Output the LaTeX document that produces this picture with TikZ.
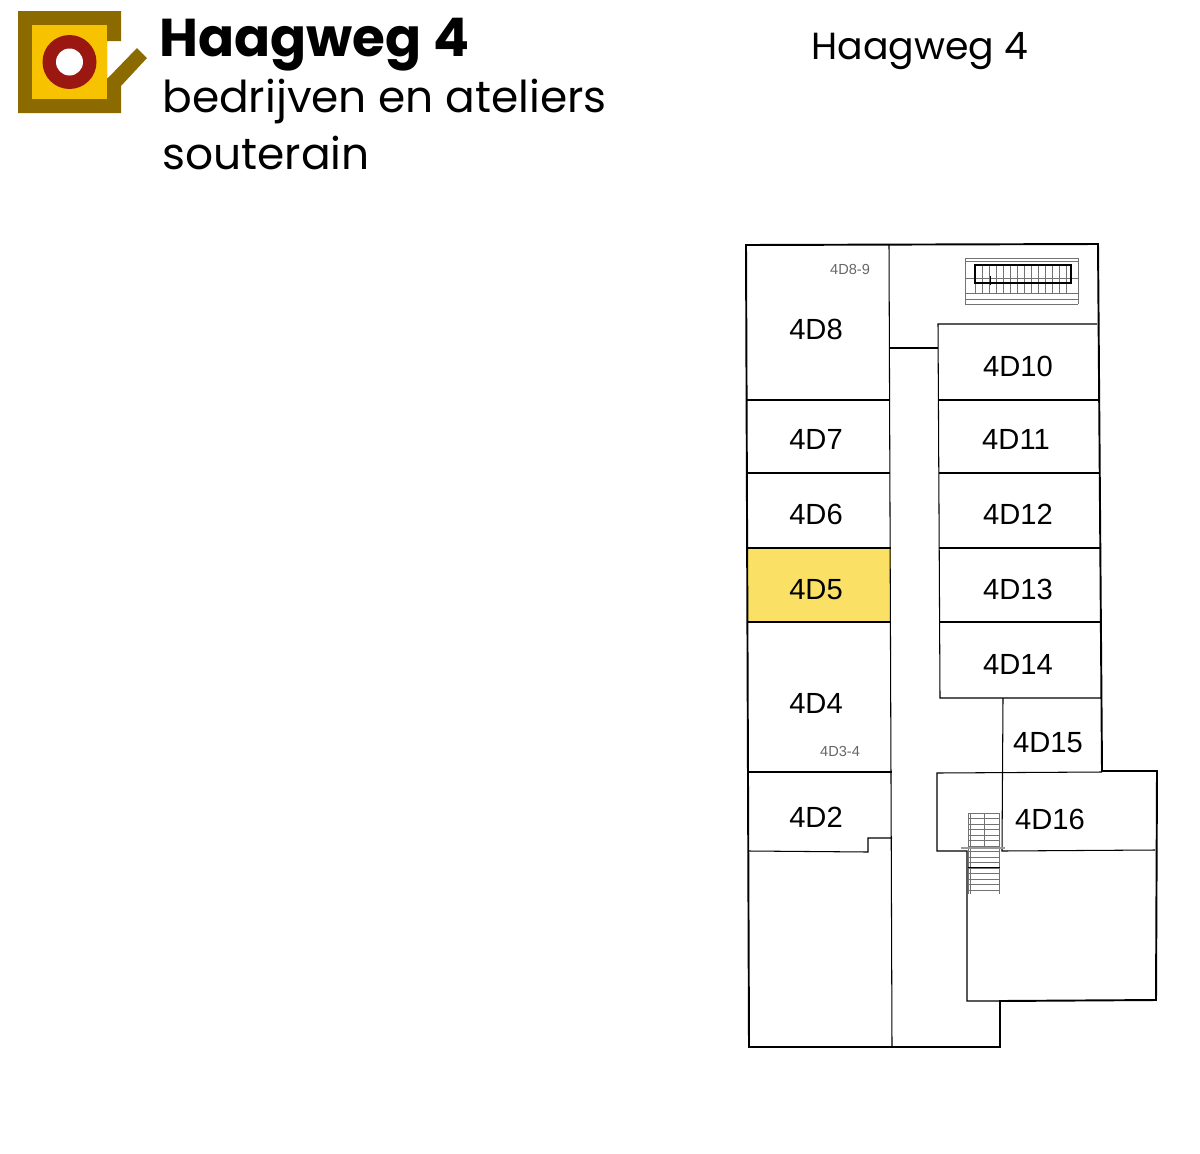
\documentclass[tikz,border=0pt]{standalone}
\usepackage{fontspec}
\setmainfont{Liberation Sans}
\newfontfamily\logofont{Poppins}
\definecolor{logobrown}{HTML}{8B6B00}
\definecolor{logoyellow}{HTML}{F7C200}
\definecolor{logored}{HTML}{9B1711}
\definecolor{unitfill}{HTML}{FAE064}
\tikzset{
    unitlabel/.style={font=\fontsize{16.6}{18}\selectfont, inner sep=0pt},
    smalllabel/.style={font=\fontsize{8.3}{9}\selectfont, text=black!60, inner sep=0pt},
    logotext/.style={font=\logofont\fontsize{25}{27}\selectfont, anchor=base west, inner sep=0pt},
    outerwall/.style={line width=1.1pt},
    innerwall/.style={line width=0.6pt},
    stairline/.style={line width=0.4pt, black!55},
}
\begin{document}
\begin{tikzpicture}[x=0.02cm,y=-0.02cm]
    \useasboundingbox (0,0) rectangle (1200,1153);

    % logo
    \fill[logobrown] (18,11) -- (121,11) -- (121,41) -- (107,41) -- (107,79) -- (137,48) -- (147,58) -- (121,86) -- (121,113) -- (18,113) -- cycle;
    \fill[logoyellow] (32,25) rectangle (107,99);
    \fill[logored] (69.5,62) circle (27);
    \fill[white] (69.5,62) circle (13.5);

    % headings
    \node[logotext, font=\logofont\bfseries\fontsize{30.3}{32}\selectfont] (title) at (159,56) {Haagweg 4};
    \node[logotext] (subtitle) at (162,112) {bedrijven en ateliers};
    \node[logotext] (level) at (162,169) {souterain};
    \node[font=\logofont\fontsize{21.5}{24}\selectfont, inner sep=0pt] (building) at (920,51) {Haagweg 4};

    % highlighted unit
    \fill[unitfill] (748,548) rectangle (891,622);

    % inner walls
    \draw[innerwall] (889,245) -- (892,1047);
    \draw[innerwall] (747,400) -- (890,400);
    \draw[innerwall] (747,473) -- (890,473);
    \draw[innerwall] (748,548) -- (891,548);
    \draw[innerwall] (748,622) -- (891,622);
    \draw[innerwall] (749,772) -- (892,772);
    \draw[innerwall] (749,851) -- (868,852) -- (868,838) -- (892,838);
    \draw[innerwall] (1097,324) -- (938,324) -- (940,698) -- (1101,698);
    \draw[innerwall] (889,348) -- (938,348);
    \draw[innerwall] (939,400) -- (1098,400);
    \draw[innerwall] (939,473) -- (1099,473);
    \draw[innerwall] (939,548) -- (1100,548);
    \draw[innerwall] (940,622) -- (1100,622);
    \draw[innerwall] (1003,698) -- (1002,851) -- (1155,850);
    \draw[innerwall] (1102,772) -- (937,773) -- (937,851) -- (967,851) -- (967,1001) -- (1000,1001);

    % outer wall
    \draw[outerwall] (746,245) -- (1098,244) -- (1102,771) -- (1157,771) -- (1156,1000) -- (1000,1001) -- (1000,1047) -- (749,1047) -- cycle;

    % upper stairs
    \foreach \y in {258,261,293,299,304}
        \draw[stairline] (965,\y) -- (1078,\y);
    \draw[stairline] (965,258) -- (965,304);
    \draw[stairline] (1078,258) -- (1078,304);
    \draw[stairline] (965,278) -- (1078,278);
    \foreach \x in {975,982,...,1072}
        \draw[stairline] (\x,265) -- (\x,293);
    \draw[line width=0.9pt] (975,265) rectangle (1071,283);
    \draw[stairline, black] (990,276) -- (990,285);

    % lower stairs
    \foreach \y in {813,818.5,...,894}
        \draw[stairline] (968,\y) -- (999,\y);
    \draw[stairline] (968,813) -- (968,894);
    \draw[stairline] (970,813) -- (970,894);
    \draw[stairline] (999,813) -- (999,894);
    \draw[stairline] (984,813) -- (984,847);
    \draw[line width=0.8pt, black!40] (961,848) -- (1005,848);
    \draw[stairline, black] (968,867) -- (1000,867);

    % units
    \node[unitlabel] (d8) at (816,329) {4D8};
    \node[unitlabel] (d7) at (816,439) {4D7};
    \node[unitlabel] (d6) at (816,514) {4D6};
    \node[unitlabel] (d5) at (816,589.5) {4D5};
    \node[unitlabel] (d4) at (816,703) {4D4};
    \node[unitlabel] (d2) at (816,817) {4D2};
    \node[unitlabel] (d10) at (1018,366) {4D10};
    \node[unitlabel] (d11) at (1016,439) {4D11};
    \node[unitlabel] (d12) at (1018,514) {4D12};
    \node[unitlabel] (d13) at (1018,589) {4D13};
    \node[unitlabel] (d14) at (1018,664) {4D14};
    \node[unitlabel] (d15) at (1048,742.5) {4D15};
    \node[unitlabel] (d16) at (1050,819) {4D16};
    \node[smalllabel] (d89) at (850,269.5) {4D8-9};
    \node[smalllabel] (d34) at (840,751.5) {4D3-4};
\end{tikzpicture}
\end{document}
